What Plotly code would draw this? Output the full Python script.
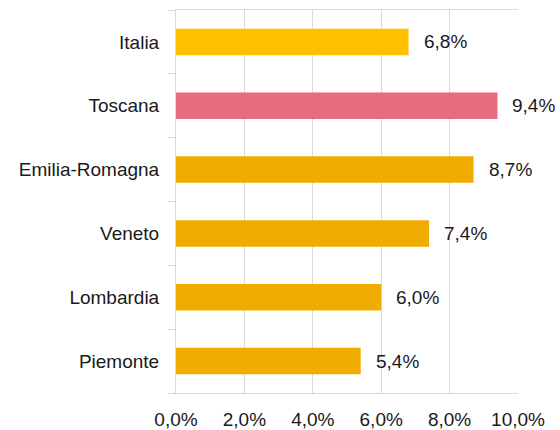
import plotly.graph_objects as go

categories = ["Italia", "Toscana", "Emilia-Romagna", "Veneto", "Lombardia", "Piemonte"]
values = [6.8, 9.4, 8.7, 7.4, 6.0, 5.4]
colors = ["#FFC000", "#E66C7E", "#F0AD00", "#F0AD00", "#F0AD00", "#F0AD00"]
tick_vals = [0, 2, 4, 6, 8, 10]
tick_text = ["0,0%", "2,0%", "4,0%", "6,0%", "8,0%", "10,0%"]

def fmt(v):
    return f"{v:.1f}".replace(".", ",") + "%"

font_family = "Liberation Sans, Arial, sans-serif"

fig = go.Figure(go.Bar(
    y=categories,
    x=values,
    orientation="h",
    marker=dict(color=colors, line=dict(width=0)),
    hoverinfo="skip",
))

for c, v in zip(categories, values):
    fig.add_annotation(x=v, y=c, text=fmt(v), showarrow=False,
                       xanchor="left", yanchor="middle", xshift=13,
                       font=dict(family=font_family, size=19, color="#1a1a1a"))

fig.update_layout(
    width=560, height=430,
    margin=dict(l=176, r=42, t=10, b=37),
    paper_bgcolor="white", plot_bgcolor="white",
    bargap=0.585,
    showlegend=False,
    font=dict(family=font_family, size=19, color="#1a1a1a"),
)
fig.update_xaxes(
    range=[0, 10], tickvals=tick_vals, ticktext=tick_text,
    showgrid=True, gridcolor="#D9D9D9", gridwidth=1,
    showline=True, linecolor="#D9D9D9", linewidth=1, mirror="all",
    zeroline=False, ticks="", ticklabelstandoff=9,
    automargin=False, fixedrange=True,
)
fig.update_yaxes(
    categoryorder="array", categoryarray=categories[::-1],
    showgrid=False, showline=True, linecolor="#D9D9D9", linewidth=1,
    ticks="outside", tickson="boundaries", ticklen=7, tickcolor="#D9D9D9",
    ticklabelstandoff=12, automargin=False, fixedrange=True,
)

fig.write_html("out.html", config={"displayModeBar": False})

with open("out.html", "r", encoding="utf-8") as f:
    html = f.read()
html = html.replace("<head>", "<head><style>html,body{margin:0;padding:0;overflow:hidden;}</style>", 1)
with open("out.html", "w", encoding="utf-8") as f:
    f.write(html)
